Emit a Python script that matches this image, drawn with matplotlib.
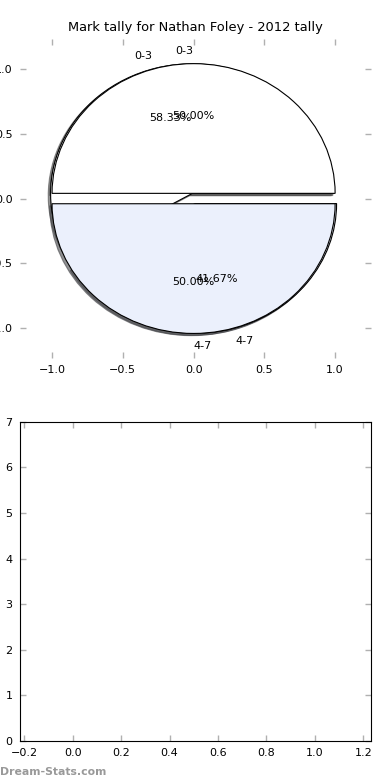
import matplotlib
matplotlib.use("Agg")
import matplotlib.pyplot as plt

# Data
labels = ["0-3", "4-7"]
tally_a = [7, 5]     # 58.33% / 41.67%
tally_b = [1, 1]     # 50.00% / 50.00%
wedge_colors = ["white", "#ebf0fc"]

title = "Mark tally for Nathan Foley - 2012 tally"

plt.rcParams["font.size"] = 8

fig = plt.figure(figsize=(3.9, 7.8), dpi=100)
fig.subplots_adjust(left=0.05, right=0.95, bottom=0.05, top=0.95, hspace=0.2)

ax_pie = fig.add_subplot(2, 1, 1)
ax_empty = fig.add_subplot(2, 1, 2)

# Two pies drawn on the same axes, the second one on top.
for values in (tally_a, tally_b):
    ax_pie.pie(values, labels=labels, colors=wedge_colors, autopct="%1.2f%%",
               explode=[0.04, 0.04], startangle=0, counterclock=True,
               shadow={"ox": -0.012, "oy": -0.012, "alpha": 0.6},
               frame=False,
               wedgeprops={"edgecolor": "black", "linewidth": 0.8})

ax_pie.set_aspect("auto")
ax_pie.set_xlim(-1.23, 1.25)
ax_pie.set_ylim(-1.23, 1.23)
ax_pie.set_xticks([-1.0, -0.5, 0.0, 0.5, 1.0])
ax_pie.set_yticks([-1.0, -0.5, 0.0, 0.5, 1.0])
ax_pie.set_title(title, fontsize=9.4)

ax_empty.set_xlim(-0.22, 1.23)
ax_empty.set_ylim(0, 7)
ax_empty.set_xticks([-0.2, 0.0, 0.2, 0.4, 0.6, 0.8, 1.0, 1.2])

for ax in (ax_pie, ax_empty):
    ax.tick_params(direction="in", length=4, width=1, color="#b0b0b0",
                   top=True, right=True, labelsize=8, pad=5)

fig.text(0.0, 0.004, "Dream-Stats.com", color="#999999", fontsize=7.8,
         fontweight="bold", ha="left", va="bottom")

fig.savefig("out.png", dpi=100)
plt.close(fig)
